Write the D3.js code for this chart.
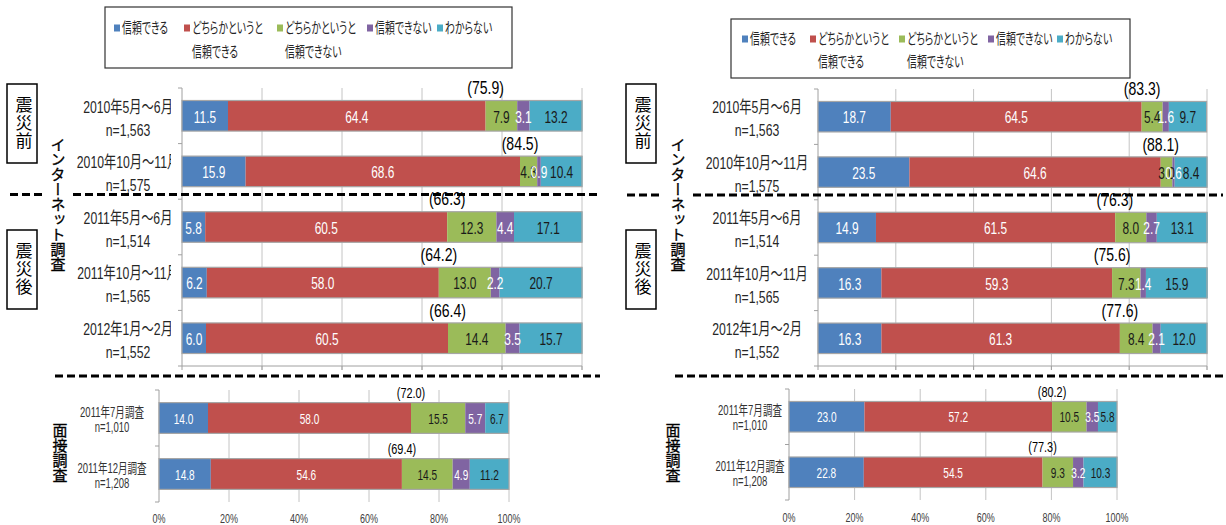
<!DOCTYPE html>
<html><head><meta charset="utf-8">
<script src="https://cdn.jsdelivr.net/npm/d3@7"></script>
<style>body{margin:0;background:#fff}svg{display:block}text{font-feature-settings:"palt" 1}</style>
</head><body>
<svg id="c" width="1226" height="525"></svg>
<script>
// ---------- data ----------
const seriesNames = [["信頼できる"],["どちらかというと","信頼できる"],["どちらかというと","信頼できない"],["信頼できない"],["わからない"]];
const seriesColors = ["#4F81BD","#C0504D","#9BBB59","#8064A2","#4BACC6"];
const labelColors = ["#ffffff","#ffffff","#1a1a1a","#ffffff","#1a1a1a"];
const internetCategories = [["2010年5月～6月","n=1,563"],["2010年10月～11月","n=1,575"],["2011年5月～6月","n=1,514"],["2011年10月～11月","n=1,565"],["2012年1月～2月","n=1,552"]];
const interviewCategories = [["2011年7月調査","n=1,010"],["2011年12月調査","n=1,208"]];
const tickValues = [0,20,40,60,80,100];

const leftInternetValues = [
  [11.5,64.4,7.9,3.1,13.2],
  [15.9,68.6,4.3,0.9,10.4],
  [5.8,60.5,12.3,4.4,17.1],
  [6.2,58.0,13.0,2.2,20.7],
  [6.0,60.5,14.4,3.5,15.7]];
const leftInternetTotals = [75.9,84.5,66.3,64.2,66.4];
const leftInterviewValues = [
  [14.0,58.0,15.5,5.7,6.7],
  [14.8,54.6,14.5,4.9,11.2]];
const leftInterviewTotals = [72.0,69.4];

const rightInternetValues = [
  [18.7,64.5,5.4,1.6,9.7],
  [23.5,64.6,3.0,0.6,8.4],
  [14.9,61.5,8.0,2.7,13.1],
  [16.3,59.3,7.3,1.4,15.9],
  [16.3,61.3,8.4,2.1,12.0]];
const rightInternetTotals = [83.3,88.1,76.3,75.6,77.6];
const rightInterviewValues = [
  [23.0,57.2,10.5,3.5,5.8],
  [22.8,54.5,9.3,3.2,10.3]];
const rightInterviewTotals = [80.2,77.3];

// ---------- drawing ----------
const FONT = "'Liberation Sans','Noto Sans CJK JP',sans-serif";
const svg = d3.select("#c").attr("font-family", FONT);

function txt(g, x, y, s, size, sx, anchor, fill) {
  return g.append("text")
    .attr("transform", `translate(${x},${y}) scale(${sx},1)`)
    .attr("text-anchor", anchor)
    .attr("dominant-baseline", "central")
    .attr("font-size", size)
    .attr("fill", fill)
    .text(s);
}

function panel(cfg, cats, values, totals) {
  const g = svg.append("g");
  const x = d3.scaleLinear().domain([0,100]).range([cfg.x0, cfg.x1]);
  const y = d3.scaleBand().domain(d3.range(cats.length)).range([cfg.y0, cfg.y1])
    .paddingInner(0.45).paddingOuter(0.225);

  g.append("g").selectAll("line").data(tickValues.slice(1)).join("line")
    .attr("x1", d => x(d)).attr("x2", d => x(d))
    .attr("y1", cfg.y0).attr("y2", cfg.y1 + (cfg.tickDown || 0))
    .attr("stroke", "#c4c4c4").attr("stroke-width", 1);

  g.append("line").attr("x1", x(0)).attr("x2", x(0)).attr("y1", cfg.y0).attr("y2", cfg.y1)
    .attr("stroke", "#a0a0a0").attr("stroke-width", 1);
  const bounds = d3.range(cats.length + 1).map(i => cfg.y0 + i * y.step());
  g.append("g").selectAll("line").data(bounds).join("line")
    .attr("x1", x(0) - 4).attr("x2", x(0)).attr("y1", d => d).attr("y2", d => d)
    .attr("stroke", "#a0a0a0");

  if (cfg.bottomAxis) {
    g.append("line").attr("x1", x(0)).attr("x2", x(100)).attr("y1", cfg.y1).attr("y2", cfg.y1)
      .attr("stroke", "#a0a0a0");
    g.append("g").selectAll("line").data(tickValues).join("line")
      .attr("x1", d => x(d)).attr("x2", d => x(d)).attr("y1", cfg.y1).attr("y2", cfg.y1 + 4)
      .attr("stroke", "#a0a0a0");
  }
  if (cfg.tickLabels) {
    tickValues.forEach(v => txt(g, x(v), cfg.tickY, v + "%", 12, 0.75, "middle", "#404040"));
  }

  values.forEach((row, i) => {
    const by = y(i), bh = y.bandwidth();
    let cum = 0;
    const segs = row.map((v, k) => { const s = {k, v, a: cum, b: cum + v}; cum += v; return s; });
    const bg = g.append("g");
    bg.selectAll("rect").data(segs).join("rect")
      .attr("x", d => x(d.a)).attr("width", d => x(d.b) - x(d.a))
      .attr("y", by).attr("height", bh)
      .attr("fill", d => seriesColors[d.k]);
    bg.append("rect").attr("x", x(0)).attr("width", x(Math.min(cum,100)) - x(0))
      .attr("y", by).attr("height", bh).attr("fill", "none")
      .attr("stroke", "#a6a6a6").attr("stroke-width", 1.2);
    segs.forEach(d => {
      txt(bg, x((d.a + d.b) / 2), by + bh / 2 + 1, d.v.toFixed(1), cfg.valSize, cfg.valSx, "middle", labelColors[d.k]);
    });
    txt(g, x(totals[i]), by - cfg.totOff, "(" + totals[i].toFixed(1) + ")", cfg.totSize, 0.78, "middle", "#000");
    const lg = cfg.clip ? cfg.clip : g;
    txt(lg, cfg.labelX, by + bh / 2 + cfg.l1, cats[i][0], cfg.catSize, cfg.catSx, "middle", cfg.catFill);
    txt(lg, cfg.labelX, by + bh / 2 + cfg.l2, cats[i][1], cfg.catSize, cfg.catSx, "middle", cfg.catFill);
  });
}

const defs = svg.append("defs");
defs.append("clipPath").attr("id", "lclip").append("rect").attr("x", 0).attr("y", 80).attr("width", 171).attr("height", 300);
const leftClipG = svg.append("g").attr("clip-path", "url(#lclip)");

panel({x0:182, x1:582, y0:88, y1:366, bottomAxis:true, tickDown:4, valSize:17, valSx:0.7, totSize:18, totOff:13,
       labelX:128, l1:-9, l2:14, catSize:17, catSx:0.72, catFill:"#262626", clip:leftClipG},
      internetCategories, leftInternetValues, leftInternetTotals);
panel({x0:818, x1:1207, y0:89, y1:366, bottomAxis:true, tickDown:4, valSize:17, valSx:0.7, totSize:18, totOff:13,
       labelX:757, l1:-9, l2:14, catSize:17, catSx:0.72, catFill:"#262626"},
      internetCategories, rightInternetValues, rightInternetTotals);
panel({x0:159, x1:509, y0:390, y1:502, tickLabels:true, tickY:518, valSize:14, valSx:0.72, totSize:14, totOff:9,
       labelX:112, l1:-6, l2:9, catSize:14, catSx:0.68, catFill:"#333"},
      interviewCategories, leftInterviewValues, leftInterviewTotals);
panel({x0:789, x1:1117, y0:389, y1:500, tickLabels:true, tickY:517, valSize:14, valSx:0.72, totSize:14, totOff:9,
       labelX:750, l1:-6, l2:9, catSize:14, catSx:0.68, catFill:"#333"},
      interviewCategories, rightInterviewValues, rightInterviewTotals);

function legend(bx, by, bw, bh, items, y1, y2) {
  const g = svg.append("g");
  g.append("rect").attr("x", bx).attr("y", by).attr("width", bw).attr("height", bh)
    .attr("fill", "#fff").attr("stroke", "#333").attr("stroke-width", 1.2);
  seriesNames.forEach((lines, i) => {
    const sx = items[i];
    g.append("rect").attr("x", sx - 3).attr("y", y1 - 3.5).attr("width", 6).attr("height", 7).attr("fill", seriesColors[i]);
    lines.forEach((s, j) => txt(g, sx + 5, j ? y2 : y1, s, 15, 0.66, "start", "#262626"));
  });
}
legend(105, 7, 407, 61, [117, 187, 280, 370, 440], 28, 52);
legend(731, 19, 399, 59, [745, 813, 902, 991, 1060], 39, 62);

const dashes = [
  [10,42,194.5],[73,600,194.5],[55,600,376],
  [627,663,195],[693,1223,195],[675,1223,376]];
svg.append("g").selectAll("line").data(dashes).join("line")
  .attr("x1", d => d[0]).attr("x2", d => d[1]).attr("y1", d => d[2]).attr("y2", d => d[2])
  .attr("stroke", "#000").attr("stroke-width", 3).attr("stroke-dasharray", "8,4");

function vbox(x, y, w, h, s) {
  svg.append("rect").attr("x", x).attr("y", y).attr("width", w).attr("height", h)
    .attr("fill", "#fff").attr("stroke", "#000").attr("stroke-width", 1.5);
  svg.append("text").attr("x", x + w / 2).attr("y", y + h / 2)
    .attr("writing-mode", "vertical-rl").attr("text-anchor", "middle")
    .attr("font-size", 17).attr("letter-spacing", 1).attr("fill", "#000").text(s);
}
function vtext(x, y, s, size) {
  svg.append("text").attr("x", x).attr("y", y)
    .attr("writing-mode", "vertical-rl").attr("text-anchor", "middle")
    .attr("font-size", size).attr("fill", "#000").attr("stroke", "#000").attr("stroke-width", 0.3).text(s);
}
vbox(7, 84, 30, 79, "震災前");
vbox(7, 230, 30, 79, "震災後");
vbox(626, 84, 30, 79, "震災前");
vbox(626, 230, 30, 79, "震災後");
vtext(57, 204, "インターネット調査", 15);
vtext(677, 204, "インターネット調査", 15);
vtext(59, 453, "面接調査", 15);
vtext(672, 453, "面接調査", 15);
</script>
</body></html>
